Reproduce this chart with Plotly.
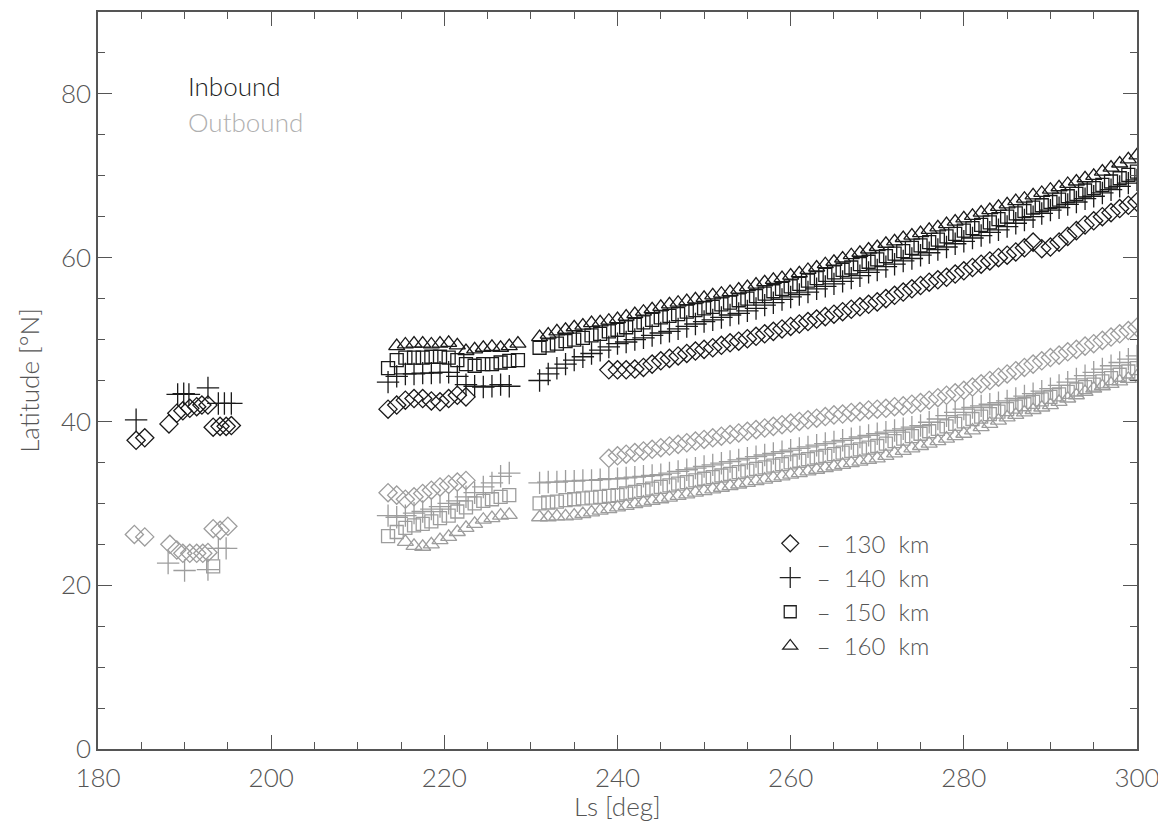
import plotly.graph_objects as go

# ---------------- data ----------------
# early group (Ls 184-196)
ls_e_in130 = [184.4, 185.4, 188.2, 189.1, 189.8, 190.6, 191.4, 192.0, 192.7, 193.3, 194.1, 194.8, 195.4]
lat_e_in130 = [37.7, 38.0, 39.7, 41.0, 41.3, 41.6, 41.8, 42.0, 42.0, 39.3, 39.4, 39.4, 39.5]
ls_e_in140 = [184.4, 189.2, 189.9, 190.5, 192.7, 193.9, 194.6, 195.4]
lat_e_in140 = [40.2, 43.3, 43.4, 43.3, 44.1, 42.2, 42.2, 42.2]
ls_e_out130 = [184.2, 185.4, 188.3, 189.1, 189.8, 190.6, 191.4, 192.1, 192.7, 193.3, 194.1, 195.0]
lat_e_out130 = [26.2, 25.9, 25.0, 24.3, 23.9, 23.9, 23.9, 23.9, 24.0, 26.9, 26.7, 27.2]
ls_e_out140 = [188.1, 190.0, 192.7, 193.9, 194.8]
lat_e_out140 = [22.7, 21.8, 21.9, 24.5, 24.5]
ls_e_out150 = [193.3]
lat_e_out150 = [22.3]

# main group, first segment (Ls 213-229)
ls_s1 = [213.5, 214.5, 215.5, 216.5, 217.5, 218.5, 219.5, 220.5, 221.5, 222.5, 223.5, 224.5, 225.5, 226.5, 227.5, 228.5]
lat_s1_in150 = [46.5, 47.5, 47.8, 47.8, 47.8, 47.9, 47.9, 47.8, 47.5, 47.0, 46.8, 47.0, 47.0, 47.2, 47.4, 47.5]
lat_s1_in160 = [None, 49.2, 49.4, 49.5, 49.5, 49.4, 49.5, 49.6, 49.3, 48.6, 48.8, 49.0, 49.1, 49.0, 49.2, 49.5]
lat_s1_in140 = [44.8, 45.5, 45.8, 45.8, 45.9, 45.9, 46.0, 46.0, 45.5, 44.5, 44.3, 44.2, 44.3, 44.5, 44.3, None]
lat_s1_in130 = [41.5, 42.0, 42.6, 42.8, 42.8, 42.5, 42.4, 42.8, 43.2, 43.0, None, None, None, None, None, None]
lat_s1_out130 = [31.3, 31.0, 30.5, 30.8, 31.2, 31.6, 32.0, 32.3, 32.6, 32.8, None, None, None, None, None, None]
lat_s1_out140 = [28.5, 28.3, 28.5, 28.8, 29.0, 29.3, 29.6, 30.0, 30.3, 30.8, 31.3, 32.0, 32.5, 33.3, 33.7, None]
lat_s1_out150 = [26.0, 26.5, 27.0, 27.3, 27.5, 27.8, 28.2, 28.5, 29.0, 29.5, 30.0, 30.3, 30.5, 30.8, 31.0, None]
lat_s1_out160 = [None, None, 25.3, 24.8, 24.7, 25.0, 25.5, 25.9, 26.5, 27.0, 27.5, 28.0, 28.2, 28.5, 28.6, None]

# main group, second segment (Ls 231-300)
ls_s2 = [231, 232, 233, 234, 235, 236, 237, 238, 239, 240, 241, 242, 243, 244, 245, 246, 247, 248, 249, 250,
         251, 252, 253, 254, 255, 256, 257, 258, 259, 260, 261, 262, 263, 264, 265, 266, 267, 268, 269, 270,
         271, 272, 273, 274, 275, 276, 277, 278, 279, 280, 281, 282, 283, 284, 285, 286, 287, 288, 289, 290,
         291, 292, 293, 294, 295, 296, 297, 298, 299, 300]
lat_s2_in160 = [50.3, 50.6, 51.0, 51.2, 51.5, 51.7, 52.0, 52.1, 52.3, 52.5, 52.8, 53.1, 53.4, 53.7, 54.0, 54.3, 54.5, 54.7, 54.9, 55.1,
                55.4, 55.6, 55.8, 56.1, 56.4, 56.7, 57.0, 57.3, 57.5, 57.8, 58.1, 58.5, 58.8, 59.2, 59.5, 59.9, 60.3, 60.6, 61.0, 61.3,
                61.7, 62.0, 62.4, 62.7, 63.0, 63.4, 63.7, 64.1, 64.4, 64.8, 65.1, 65.5, 65.8, 66.2, 66.5, 66.9, 67.2, 67.6, 67.9, 68.3,
                68.6, 69.0, 69.3, 69.7, 70.0, 70.5, 71.0, 71.5, 72.0, 72.5]
lat_s2_in150 = [49.0, 49.3, 49.5, 49.8, 50.0, 50.2, 50.5, 50.7, 51.0, 51.2, 51.5, 51.8, 52.1, 52.4, 52.7, 52.9, 53.1, 53.4, 53.6, 53.8,
                54.0, 54.3, 54.5, 54.8, 55.0, 55.3, 55.6, 55.9, 56.2, 56.5, 56.8, 57.2, 57.5, 57.9, 58.2, 58.5, 58.8, 59.2, 59.5, 59.8,
                60.2, 60.5, 60.8, 61.2, 61.5, 61.9, 62.2, 62.6, 62.9, 63.3, 63.6, 64.0, 64.3, 64.7, 65.0, 65.4, 65.7, 66.1, 66.4, 66.8,
                67.1, 67.5, 67.8, 68.2, 68.5, 68.9, 69.3, 69.7, 70.1, 70.5]
lat_s2_in140 = [45.0, 45.8, 46.5, 47.0, 47.5, 47.9, 48.3, 48.7, 49.1, 49.5, 49.7, 50.0, 50.2, 50.5, 50.8, 51.0, 51.3, 51.6, 51.9, 52.2,
                52.4, 52.7, 53.0, 53.2, 53.5, 53.8, 54.2, 54.5, 54.9, 55.2, 55.5, 55.8, 56.2, 56.5, 56.8, 57.1, 57.5, 57.8, 58.2, 58.5,
                58.9, 59.2, 59.6, 59.9, 60.3, 60.6, 61.0, 61.3, 61.7, 62.0, 62.4, 62.7, 63.1, 63.4, 63.8, 64.2, 64.6, 65.0, 65.4, 65.8,
                66.1, 66.5, 66.8, 67.2, 67.5, 67.9, 68.3, 68.7, 69.1, 69.5]
lat_s2_out140 = [32.5, 32.6, 32.6, 32.7, 32.7, 32.8, 32.8, 32.9, 33.0, 33.0, 33.1, 33.2, 33.3, 33.4, 33.5, 33.7, 33.9, 34.1, 34.3, 34.5,
                 34.7, 34.9, 35.1, 35.3, 35.5, 35.7, 35.9, 36.1, 36.3, 36.5, 36.7, 36.9, 37.1, 37.3, 37.5, 37.7, 37.9, 38.1, 38.3, 38.5,
                 38.7, 38.9, 39.1, 39.3, 39.5, 39.9, 40.3, 40.7, 41.1, 41.5, 41.7, 41.9, 42.1, 42.3, 42.5, 42.8, 43.1, 43.4, 43.7, 44.0,
                 44.4, 44.8, 45.2, 45.6, 46.0, 46.4, 46.8, 47.2, 47.6, 48.0]
lat_s2_out150 = [30.0, 30.1, 30.2, 30.4, 30.5, 30.6, 30.7, 30.8, 30.9, 31.0, 31.2, 31.4, 31.6, 31.8, 32.0, 32.2, 32.4, 32.6, 32.8, 33.0,
                 33.2, 33.4, 33.6, 33.8, 34.0, 34.2, 34.4, 34.6, 34.8, 35.0, 35.2, 35.4, 35.6, 35.8, 36.0, 36.2, 36.4, 36.6, 36.8, 37.0,
                 37.3, 37.6, 37.9, 38.2, 38.5, 38.8, 39.1, 39.4, 39.7, 40.0, 40.3, 40.6, 40.9, 41.2, 41.5, 41.8, 42.1, 42.4, 42.7, 43.0,
                 43.3, 43.6, 43.9, 44.2, 44.5, 44.9, 45.3, 45.7, 46.1, 46.5]
lat_s2_out160 = [28.3, 28.3, 28.4, 28.4, 28.5, 28.7, 28.9, 29.1, 29.3, 29.5, 29.7, 29.9, 30.1, 30.3, 30.5, 30.7, 30.9, 31.1, 31.3, 31.5,
                 31.7, 31.9, 32.1, 32.3, 32.5, 32.7, 32.9, 33.1, 33.3, 33.5, 33.7, 33.9, 34.1, 34.3, 34.5, 34.7, 34.9, 35.1, 35.3, 35.5,
                 35.8, 36.1, 36.4, 36.7, 37.0, 37.3, 37.6, 37.9, 38.2, 38.5, 38.9, 39.3, 39.7, 40.1, 40.5, 40.8, 41.1, 41.4, 41.7, 42.0,
                 42.4, 42.8, 43.2, 43.6, 44.0, 44.3, 44.6, 44.9, 45.2, 45.5]

ls_s2d = [239, 240, 241, 242, 243, 244, 245, 246, 247, 248, 249, 250,
          251, 252, 253, 254, 255, 256, 257, 258, 259, 260, 261, 262, 263, 264, 265, 266, 267, 268, 269, 270,
          271, 272, 273, 274, 275, 276, 277, 278, 279, 280, 281, 282, 283, 284, 285, 286, 287, 288, 289, 290,
          291, 292, 293, 294, 295, 296, 297, 298, 299, 300]
lat_s2_in130 = [46.3, 46.3, 46.3, 46.4, 46.6, 47.0, 47.4, 47.7, 48.0, 48.3, 48.6, 48.8,
                49.0, 49.3, 49.6, 49.8, 50.1, 50.4, 50.7, 51.0, 51.3, 51.6, 51.9, 52.2, 52.5, 52.8, 53.1, 53.4, 53.7, 54.0, 54.3, 54.6,
                55.0, 55.4, 55.8, 56.2, 56.6, 57.0, 57.3, 57.6, 58.0, 58.4, 58.8, 59.2, 59.6, 60.0, 60.3, 60.7, 61.2, 61.9, 61.1, 61.3,
                61.9, 62.6, 63.3, 64.0, 64.5, 65.0, 65.5, 66.0, 66.4, 66.8]
lat_s2_out130 = [35.5, 35.8, 36.0, 36.2, 36.4, 36.6, 36.8, 37.0, 37.2, 37.4, 37.6, 37.8,
                 38.0, 38.2, 38.4, 38.6, 38.8, 39.0, 39.2, 39.4, 39.6, 39.8, 40.0, 40.2, 40.4, 40.6, 40.8, 40.9, 41.1, 41.2, 41.4, 41.5,
                 41.6, 41.8, 41.9, 42.1, 42.3, 42.6, 42.9, 43.2, 43.5, 43.8, 44.2, 44.6, 45.0, 45.4, 45.8, 46.2, 46.6, 47.0, 47.4, 47.8,
                 48.1, 48.5, 48.8, 49.2, 49.5, 49.9, 50.3, 50.7, 51.1, 51.5]

altitudes = ["130 km", "140 km", "150 km", "160 km"]
symbols = {"130 km": "diamond-open", "140 km": "cross-thin-open", "150 km": "square-open", "160 km": "triangle-up-open"}
sizes = {"130 km": 14, "140 km": 16, "150 km": 13, "160 km": 14}

INB = "#1a1a1a"
OUTB = "#9d9d9d"

series = [
    ("130 km", OUTB, ls_e_out130 + [None] + ls_s1 + [None] + ls_s2d, lat_e_out130 + [None] + lat_s1_out130 + [None] + lat_s2_out130),
    ("140 km", OUTB, ls_e_out140 + [None] + ls_s1 + [None] + ls_s2, lat_e_out140 + [None] + lat_s1_out140 + [None] + lat_s2_out140),
    ("150 km", OUTB, ls_e_out150 + [None] + ls_s1 + [None] + ls_s2, lat_e_out150 + [None] + lat_s1_out150 + [None] + lat_s2_out150),
    ("160 km", OUTB, ls_s1 + [None] + ls_s2, lat_s1_out160 + [None] + lat_s2_out160),
    ("130 km", INB, ls_e_in130 + [None] + ls_s1 + [None] + ls_s2d, lat_e_in130 + [None] + lat_s1_in130 + [None] + lat_s2_in130),
    ("140 km", INB, ls_e_in140 + [None] + ls_s1 + [None] + ls_s2, lat_e_in140 + [None] + lat_s1_in140 + [None] + lat_s2_in140),
    ("150 km", INB, ls_s1 + [None] + ls_s2, lat_s1_in150 + [None] + lat_s2_in150),
    ("160 km", INB, ls_s1 + [None] + ls_s2, lat_s1_in160 + [None] + lat_s2_in160),
]

fig = go.Figure()
for alt, col, xs, ys in series:
    fig.add_trace(go.Scatter(
        x=xs, y=ys, mode="markers", showlegend=False, hoverinfo="x+y",
        marker=dict(symbol=symbols[alt], size=sizes[alt], color=col, line=dict(color=col, width=1.3)),
    ))

# legend entries (altitude key)
for alt in altitudes:
    fig.add_trace(go.Scatter(
        x=[None], y=[None], mode="markers",
        name="\u00a0\u2013\u00a0\u00a0" + alt.replace(" ", "\u00a0\u00a0"),
        marker=dict(symbol=symbols[alt], size=sizes[alt] - 1, color="#222", line=dict(color="#222", width=1.3)),
    ))

FONT = "Lato"
FS = 26
tfont = dict(family=FONT, size=FS, color="#555", weight=300)
axis_common = dict(
    showgrid=False, zeroline=False, showline=True, linecolor="#555", linewidth=1.5,
    mirror="allticks", ticks="inside", ticklen=14, tickwidth=1.2, tickcolor="#555",
    tickfont=tfont, automargin=False, ticklabeloverflow="allow",
)

# page body has an 8px default margin: compensate so the plot frame sits at x 98-1137, y 12-749
fig.update_layout(
    width=1158, height=818,
    margin=dict(l=90, r=29, t=4, b=77),
    paper_bgcolor="white", plot_bgcolor="white",
    font=dict(family=FONT, color="#555"),
    xaxis=dict(range=[180, 300], dtick=20, tick0=180,
               minor=dict(dtick=5, ticklen=7, ticks="inside", tickcolor="#555", tickwidth=1.2),
               ticklabelstandoff=5, **axis_common),
    yaxis=dict(range=[0, 90], dtick=20, tick0=0,
               minor=dict(dtick=5, ticklen=7, ticks="inside", tickcolor="#555", tickwidth=1.2),
               title=dict(text="Latitude [°N]", font=tfont, standoff=14),
               ticklabelstandoff=0, **axis_common),
    legend=dict(x=0.647, y=0.309, xanchor="left", yanchor="top", bgcolor="rgba(0,0,0,0)",
                font=dict(family=FONT, size=24, color="#555", weight=300), tracegroupgap=0, itemsizing="trace"),
    annotations=[
        dict(x=0.5, y=0, xref="paper", yref="paper", text="Ls [deg]", showarrow=False,
             xanchor="center", yanchor="top", yshift=-39, font=tfont),
        dict(x=190.2, y=81.0, xref="x", yref="y", text="Inbound", showarrow=False, xanchor="left",
             font=dict(family=FONT, size=FS, color="#222", weight=300)),
        dict(x=190.2, y=76.6, xref="x", yref="y", text="Outbound", showarrow=False, xanchor="left",
             font=dict(family=FONT, size=FS, color="#b0b0b0", weight=300)),
    ],
)

fig.write_html("out.html")
